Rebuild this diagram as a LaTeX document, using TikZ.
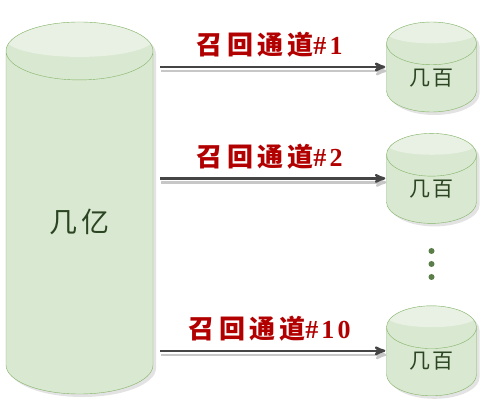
\documentclass[tikz,border=0pt]{standalone}
\usepackage{fontspec}
\setmainfont{Liberation Serif}
\newfontfamily\cjkfont{Noto Sans CJK SC}
\newfontfamily\chanfont{Noto Sans CJK SC}[LetterSpace=16]
\newfontfamily\numfont{Liberation Serif}[LetterSpace=12]
\usetikzlibrary{arrows,shapes.geometric,positioning,shadows,calc}
\definecolor{dbbody}{HTML}{D9E8D0}
\definecolor{dbtop}{HTML}{E8F1E3}
\definecolor{dbline}{HTML}{82B366}
\definecolor{dbtext}{HTML}{2B4522}
\definecolor{chanred}{HTML}{B20000}
\definecolor{arrowgray}{HTML}{454545}

\begin{document}
\begin{tikzpicture}[x=1pt,y=-1pt,->,>=stealth',shorten >=1pt,auto,
                    line width=2.4pt]
  \tikzstyle{db}=[cylinder,shape border rotate=90,draw=dbline,thin,
    fill=dbbody,text=dbtext,aspect=0.95,inner sep=0pt,anchor=shape center,
    drop shadow={shadow xshift=3pt,shadow yshift=-3pt,opacity=0.22},
    path picture={\fill[dbtop] let \p1=(path picture bounding box.west),
      \p2=(path picture bounding box.east),\n1={(\x2-\x1)/2} in
      ([yshift=-0.95*\n1/4]path picture bounding box.north)
      ellipse ({\n1} and {0.95*\n1/4});}]
  \tikzstyle{small db}=[db,minimum width=90pt,minimum height=90pt,
    font=\cjkfont\fontsize{21}{21}\selectfont]
  \tikzstyle{chan}=[above=5pt,text=chanred,font=\bfseries\fontsize{26}{26}\selectfont]
  \tikzstyle{dot}=[circle,fill=dbline!70!black,inner sep=0pt,minimum size=6pt]
  \tikzstyle{every edge}=[draw=arrowgray,
    preaction={draw=black!22,transform canvas={shift={(1pt,-4pt)}}}]
  \path[use as bounding box,fill=white] (0,0) rectangle (499,409);

  \node[db,minimum width=147pt,minimum height=372pt,
    font=\cjkfont\fontsize{28}{28}\selectfont] (big) at (79.5,208)
    {\raisebox{4pt}{几\hspace{5pt}亿}};
  \node[small db] (s1) at (431.5,67) {\raisebox{2pt}{几\hspace{3pt}百}};
  \node[small db] (s2) [below=21pt of s1] {\raisebox{2pt}{几\hspace{3pt}百}};
  \node[small db] (s3) [below=82pt of s2] {\raisebox{2pt}{几\hspace{3pt}百}};
  \foreach \i/\y in {1/251,2/264,3/277}
    \node[dot] (d\i) at (431.5,\y) {};

  \path[shorten <=7pt]
        (big.east |- s1.shape center) edge node[chan] {{\chanfont 召回通道}{\numfont\#1}}
          (s1.west |- s1.shape center)
        (big.east |- s2.shape center) edge node[chan] {{\chanfont 召回通道}{\numfont\#2}}
          (s2.west |- s2.shape center)
        (big.east |- s3.shape center) edge node[chan] {{\chanfont 召回通道}{\numfont\#10}}
          (s3.west |- s3.shape center);
\end{tikzpicture}
\end{document}
